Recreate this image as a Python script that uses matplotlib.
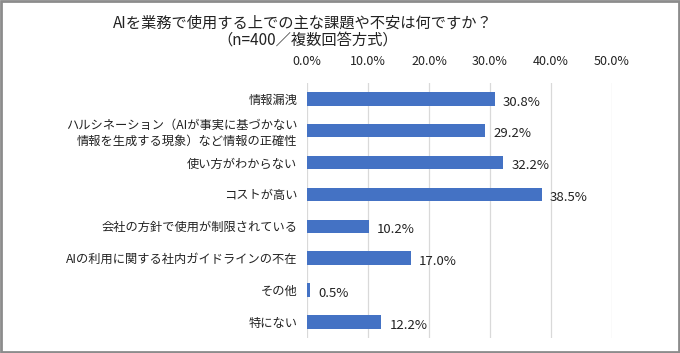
import matplotlib.pyplot as plt
from matplotlib.patches import Rectangle

plt.rcParams['font.family'] = ['Noto Sans CJK JP', 'DejaVu Sans']

categories = ['情報漏洩',
              'ハルシネーション（AIが事実に基づかない\n情報を生成する現象）など情報の正確性',
              '使い方がわからない',
              'コストが高い',
              '会社の方針で使用が制限されている',
              'AIの利用に関する社内ガイドラインの不在',
              'その他',
              '特にない']
values = [30.8, 29.2, 32.2, 38.5, 10.2, 17.0, 0.5, 12.2]
ticks = [0, 10, 20, 30, 40, 50]

text_col = '#222222'

fig = plt.figure(figsize=(6.8, 3.53), dpi=100)
ax = fig.add_axes([0.4515, 0.043, 0.4485, 0.722])

y = list(range(len(categories)))
ax.barh(y, values, height=0.42, color='#4472C4', zorder=3)
for yi, v in zip(y, values):
    ax.text(v + 1.3, yi + 0.1, f'{v:.1f}%', va='center', ha='left',
            fontsize=9.5, color=text_col)

ax.set_xlim(0, 50)
ax.set_ylim(len(categories) - 0.5, -0.5)
ax.set_xticks(ticks)
ax.set_xticklabels([f'{t:.1f}%' for t in ticks], fontsize=9, color=text_col)
ax.xaxis.tick_top()
ax.tick_params(axis='x', length=0, pad=11)
ax.set_yticks(y)
ax.set_yticklabels(categories, fontsize=8.8, color=text_col, linespacing=1.3)
ax.tick_params(axis='y', length=0, pad=7)
ax.grid(axis='x', color='#d9d9d9', linewidth=0.9, zorder=0)
for s in ax.spines.values():
    s.set_visible(False)

fig.text(0.445, 0.935, 'AIを業務で使用する上での主な課題や不安は何ですか？',
         ha='center', va='center', fontsize=11, color=text_col)
fig.text(0.452, 0.887, '（n=400／複数回答方式）',
         ha='center', va='center', fontsize=11, color=text_col)

fig.patches.append(Rectangle((0.002, 0.003), 0.996, 0.994, transform=fig.transFigure,
                             fill=False, edgecolor='#8c8c8c', linewidth=2))

fig.savefig('out.png', dpi=100, facecolor='white')
